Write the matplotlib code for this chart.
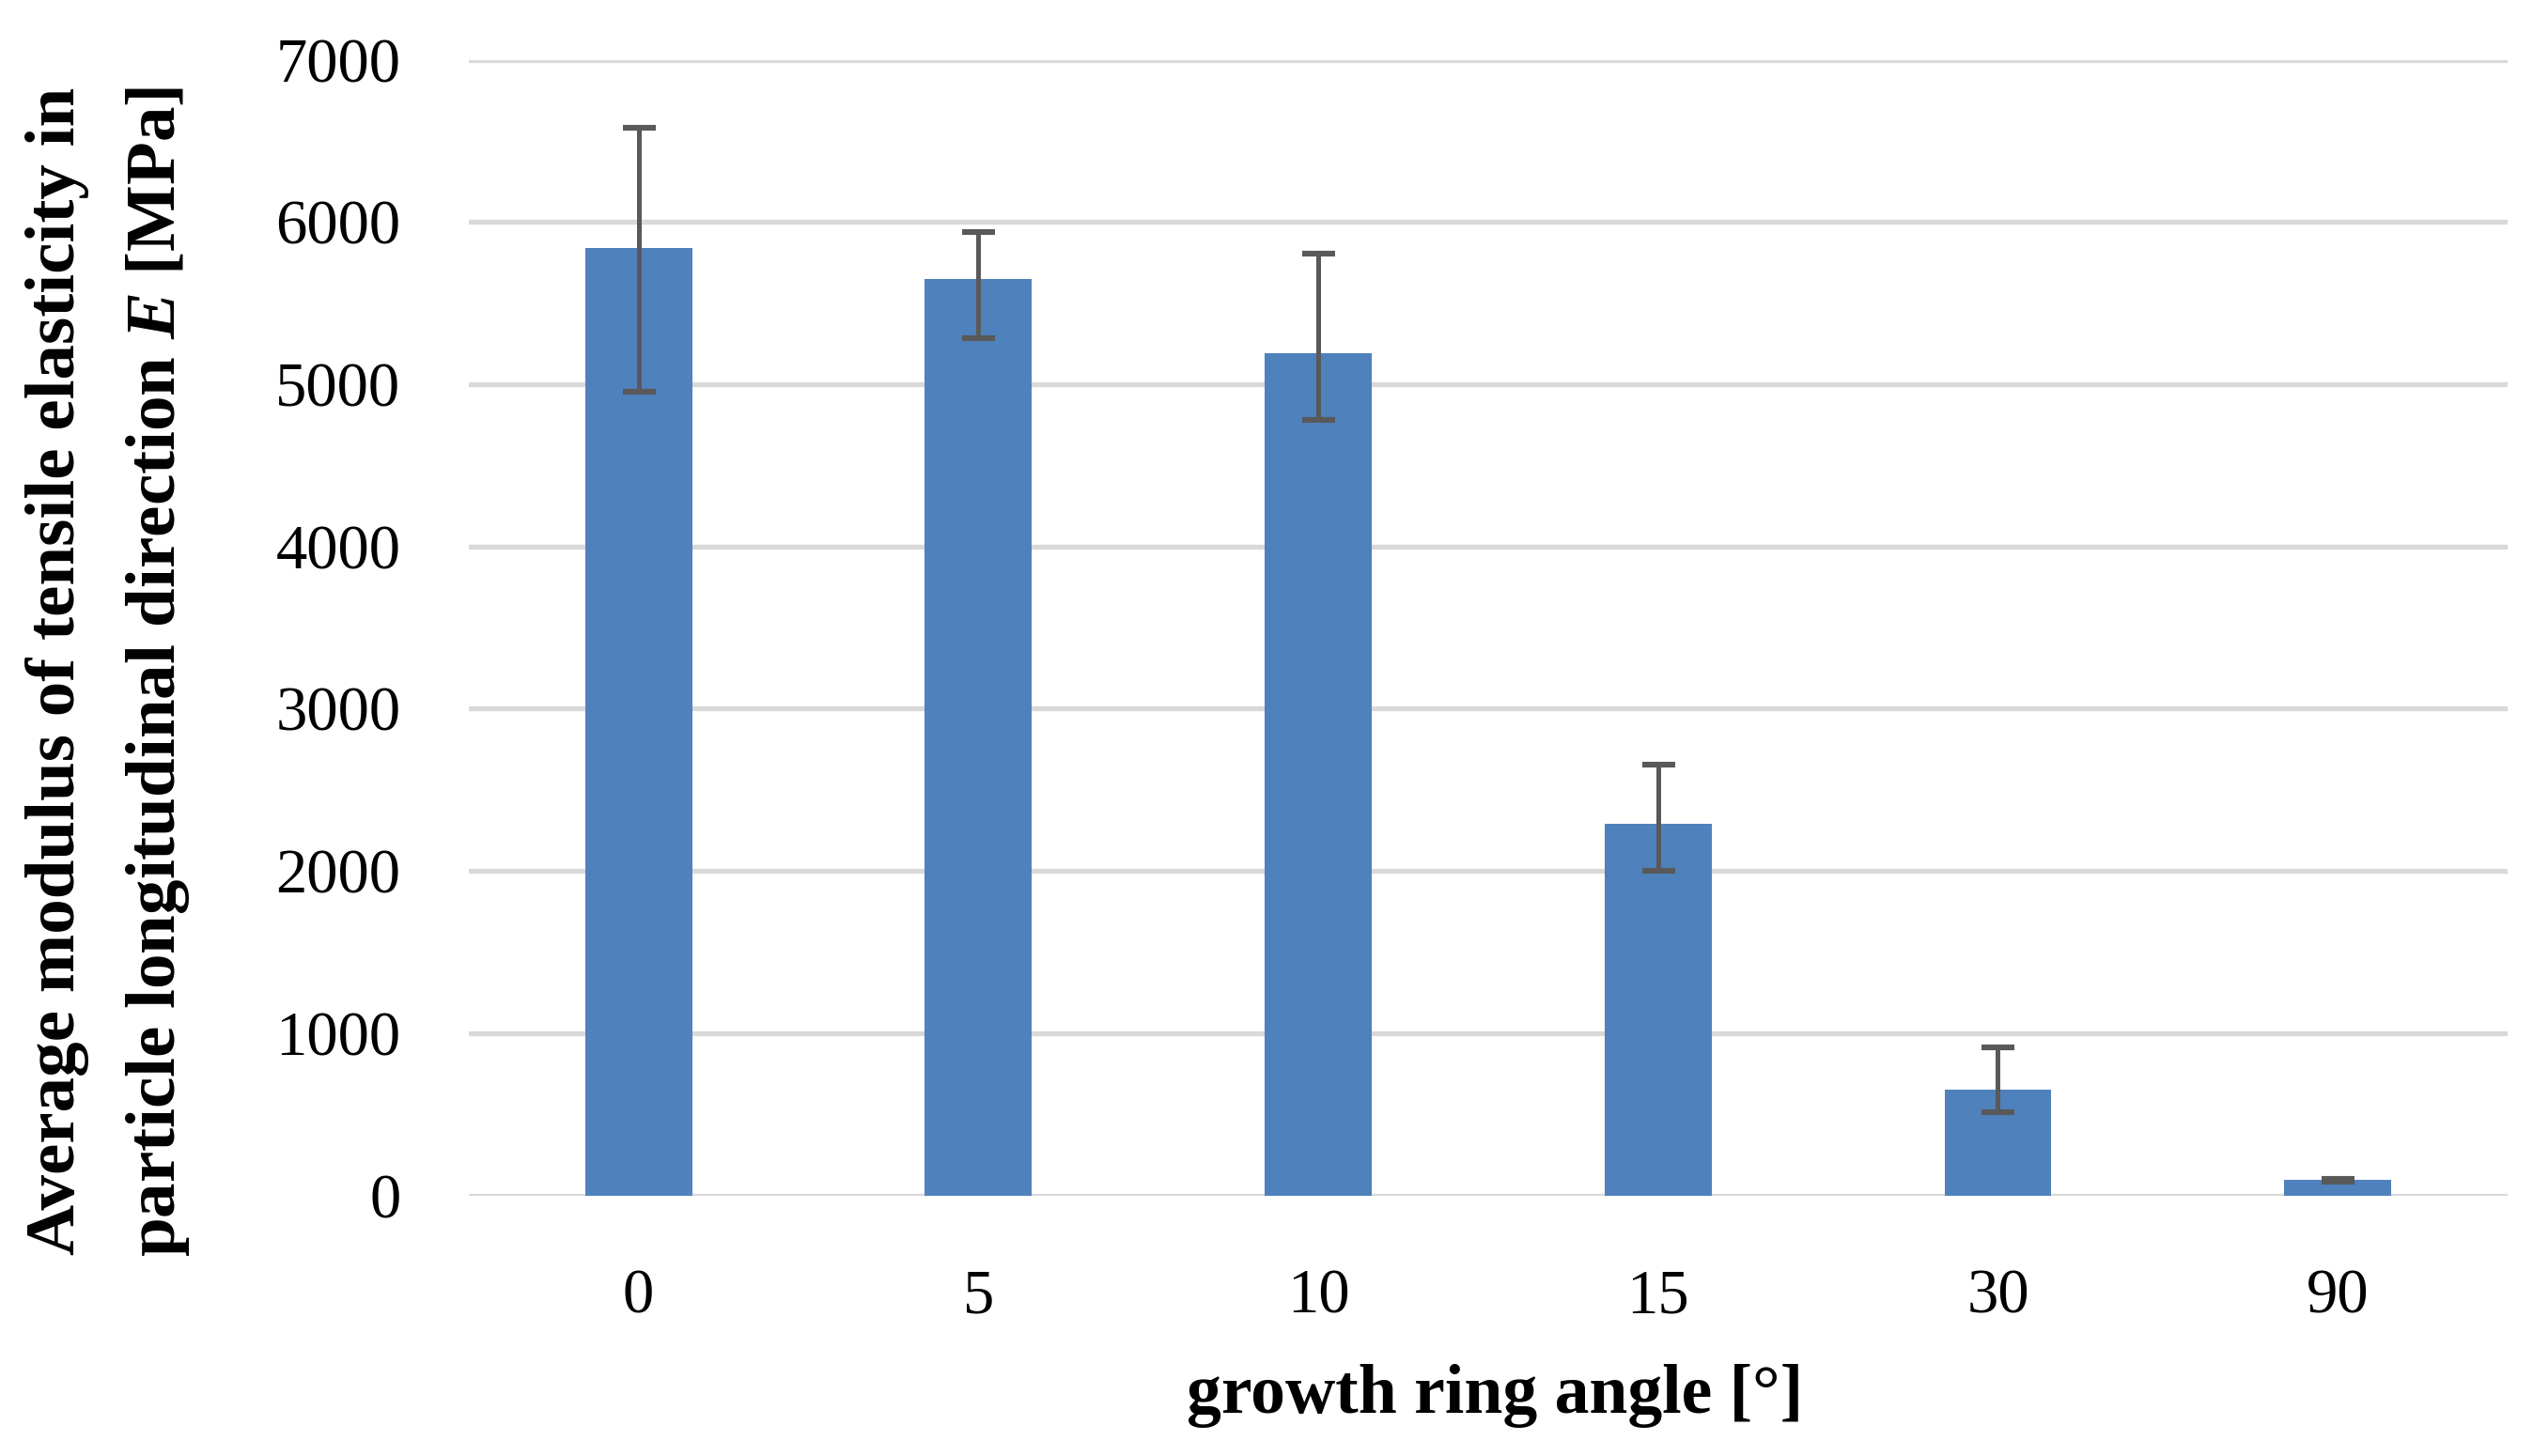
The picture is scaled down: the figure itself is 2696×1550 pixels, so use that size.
import numpy as np
import matplotlib.pyplot as plt

# data
angles = ['0', '5', '10', '15', '30', '90']
modulus = [5840, 5647, 5191, 2288, 651, 95]
err_up = [741, 289, 612, 368, 261, 8]
err_down = [885, 366, 412, 288, 136, 8]

plt.rcParams['font.family'] = ['Liberation Serif', 'DejaVu Serif']
plt.rcParams['mathtext.fontset'] = 'custom'
plt.rcParams['mathtext.it'] = 'Liberation Serif:bold:italic'
plt.rcParams['mathtext.rm'] = 'Liberation Serif:bold'

fig = plt.figure(figsize=(13.48, 7.75), dpi=200)
ax = fig.add_axes([0.185, 0.179, 0.805, 0.780])

x = np.arange(len(angles))
ax.bar(x, modulus, width=0.315, color='#4F81BD', zorder=2)
ax.errorbar(x, modulus, yerr=[err_down, err_up], fmt='none', ecolor='#595959',
            elinewidth=1.8, capsize=6.3, capthick=2.2, zorder=3)

ax.set_xlim(-0.5, len(angles) - 0.5)
ax.set_ylim(0, 7000)
ax.set_yticks(np.arange(0, 7001, 1000))
ax.set_xticks(x)
ax.set_xticklabels(angles)
ax.tick_params(axis='both', length=0, labelsize=24)
ax.tick_params(axis='x', pad=28)
ax.tick_params(axis='y', pad=26)
ax.yaxis.grid(True, color='#d9d9d9', linewidth=1.9, zorder=0)
ax.set_axisbelow(True)
for s in ax.spines.values():
    s.set_visible(False)

# axis titles
fig.text(0.590, 0.041, 'growth ring angle [°]', ha='center', va='center',
         fontsize=26.5, fontweight='bold')
fig.text(0.0226, 0.539, 'Average modulus of tensile elasticity in', rotation=90,
         ha='center', va='center', fontsize=27, fontweight='bold')
fig.text(0.0625, 0.539, 'particle longitudinal direction $E$ [MPa]', rotation=90,
         ha='center', va='center', fontsize=27, fontweight='bold')

plt.savefig('out.png', dpi=200)
